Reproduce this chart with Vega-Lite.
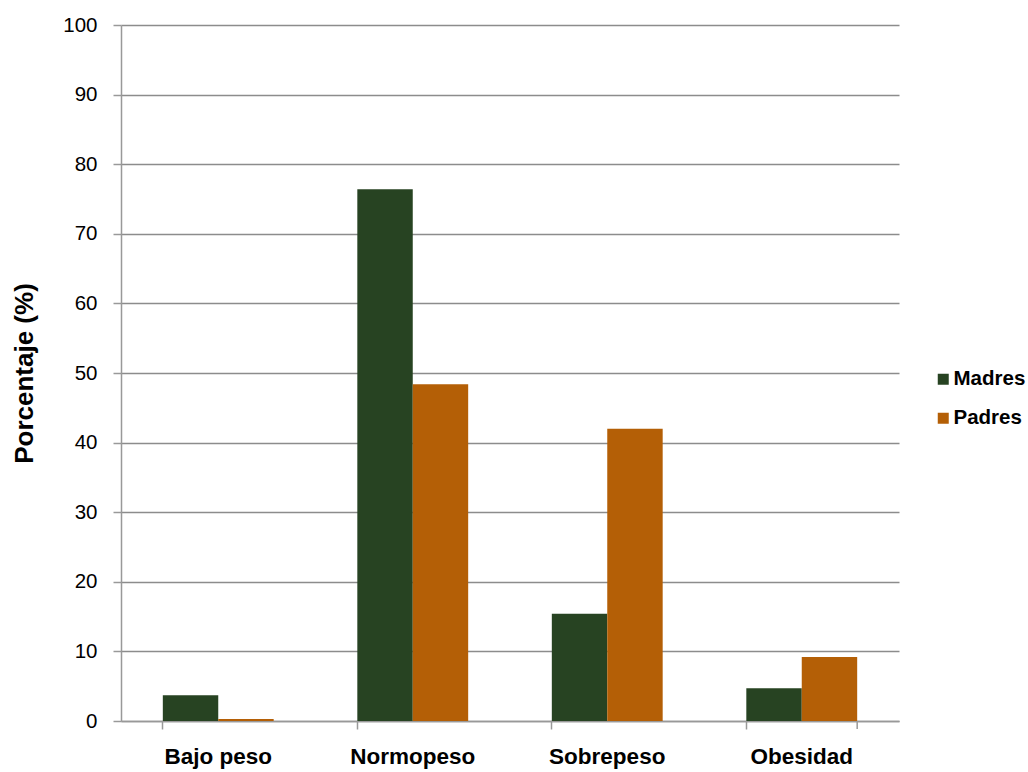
{
  "$schema": "https://vega.github.io/schema/vega-lite/v6.json",
  "width": 778,
  "height": 696,
  "autosize": {"type": "none"},
  "padding": {"left": 121, "top": 25, "right": 129, "bottom": 51},
  "background": "white",
  "config": {
    "font": "Liberation Sans",
    "view": {"stroke": null}
  },
  "datasets": {
    "imc": [
      {"categoria": "Bajo peso", "grupo": "Madres", "porcentaje": 3.7},
      {"categoria": "Bajo peso", "grupo": "Padres", "porcentaje": 0.3},
      {"categoria": "Normopeso", "grupo": "Madres", "porcentaje": 76.4},
      {"categoria": "Normopeso", "grupo": "Padres", "porcentaje": 48.4},
      {"categoria": "Sobrepeso", "grupo": "Madres", "porcentaje": 15.4},
      {"categoria": "Sobrepeso", "grupo": "Padres", "porcentaje": 42.0},
      {"categoria": "Obesidad", "grupo": "Madres", "porcentaje": 4.7},
      {"categoria": "Obesidad", "grupo": "Padres", "porcentaje": 9.2}
    ],
    "borde": [{"categoria": "Obesidad"}]
  },
  "layer": [
    {
      "data": {"name": "imc"},
      "mark": {"type": "bar"},
      "encoding": {
        "x": {
          "field": "categoria",
          "type": "nominal",
          "sort": ["Bajo peso", "Normopeso", "Sobrepeso", "Obesidad"],
          "scale": {"paddingInner": 0.43, "paddingOuter": 0.215},
          "axis": {
            "title": null,
            "labelAngle": 0,
            "labelFont": "Liberation Sans",
            "labelFontWeight": "bold",
            "labelFontSize": 22.5,
            "labelColor": "#000000",
            "labelPadding": 16,
            "bandPosition": 0,
            "domainColor": "#999999",
            "domainWidth": 1.5,
            "tickColor": "#999999",
            "tickWidth": 1.5,
            "tickSize": 8,
            "grid": false
          }
        },
        "xOffset": {
          "field": "grupo",
          "type": "nominal",
          "sort": ["Madres", "Padres"],
          "scale": {"paddingInner": 0, "paddingOuter": 0}
        },
        "y": {
          "field": "porcentaje",
          "type": "quantitative",
          "scale": {"domain": [0, 100], "nice": false},
          "axis": {
            "title": "Porcentaje (%)",
            "titleFont": "Liberation Sans",
            "titleFontSize": 26,
            "titleFontWeight": "bold",
            "titleColor": "#000000",
            "titlePadding": 25,
            "values": [0, 10, 20, 30, 40, 50, 60, 70, 80, 90, 100],
            "labelFont": "Liberation Sans",
            "labelFontSize": 20.5,
            "labelColor": "#000000",
            "labelPadding": 16,
            "domainColor": "#999999",
            "domainWidth": 1.5,
            "tickColor": "#999999",
            "tickWidth": 1.5,
            "tickSize": 8,
            "grid": true,
            "gridColor": "#8c8c8c",
            "gridWidth": 1.5
          }
        },
        "color": {
          "field": "grupo",
          "type": "nominal",
          "sort": ["Madres", "Padres"],
          "scale": {"domain": ["Madres", "Padres"], "range": ["#274322", "#b45f06"]},
          "legend": {
            "title": null,
            "orient": "none",
            "legendX": 812,
            "legendY": 344,
            "symbolType": "square",
            "symbolSize": 121,
            "symbolStrokeWidth": 0,
            "labelFont": "Liberation Sans",
            "labelFontSize": 20.5,
            "labelFontWeight": "bold",
            "labelColor": "#000000",
            "labelOffset": 0,
            "rowPadding": 18
          }
        }
      }
    },
    {
      "data": {"name": "borde"},
      "mark": {"type": "rule", "color": "#999999", "strokeWidth": 1.5},
      "encoding": {
        "x": {
          "field": "categoria",
          "type": "nominal",
          "bandPosition": 1,
          "sort": ["Bajo peso", "Normopeso", "Sobrepeso", "Obesidad"]
        },
        "y": {"datum": 0, "type": "quantitative"},
        "y2": {"datum": -1.15}
      }
    }
  ]
}
